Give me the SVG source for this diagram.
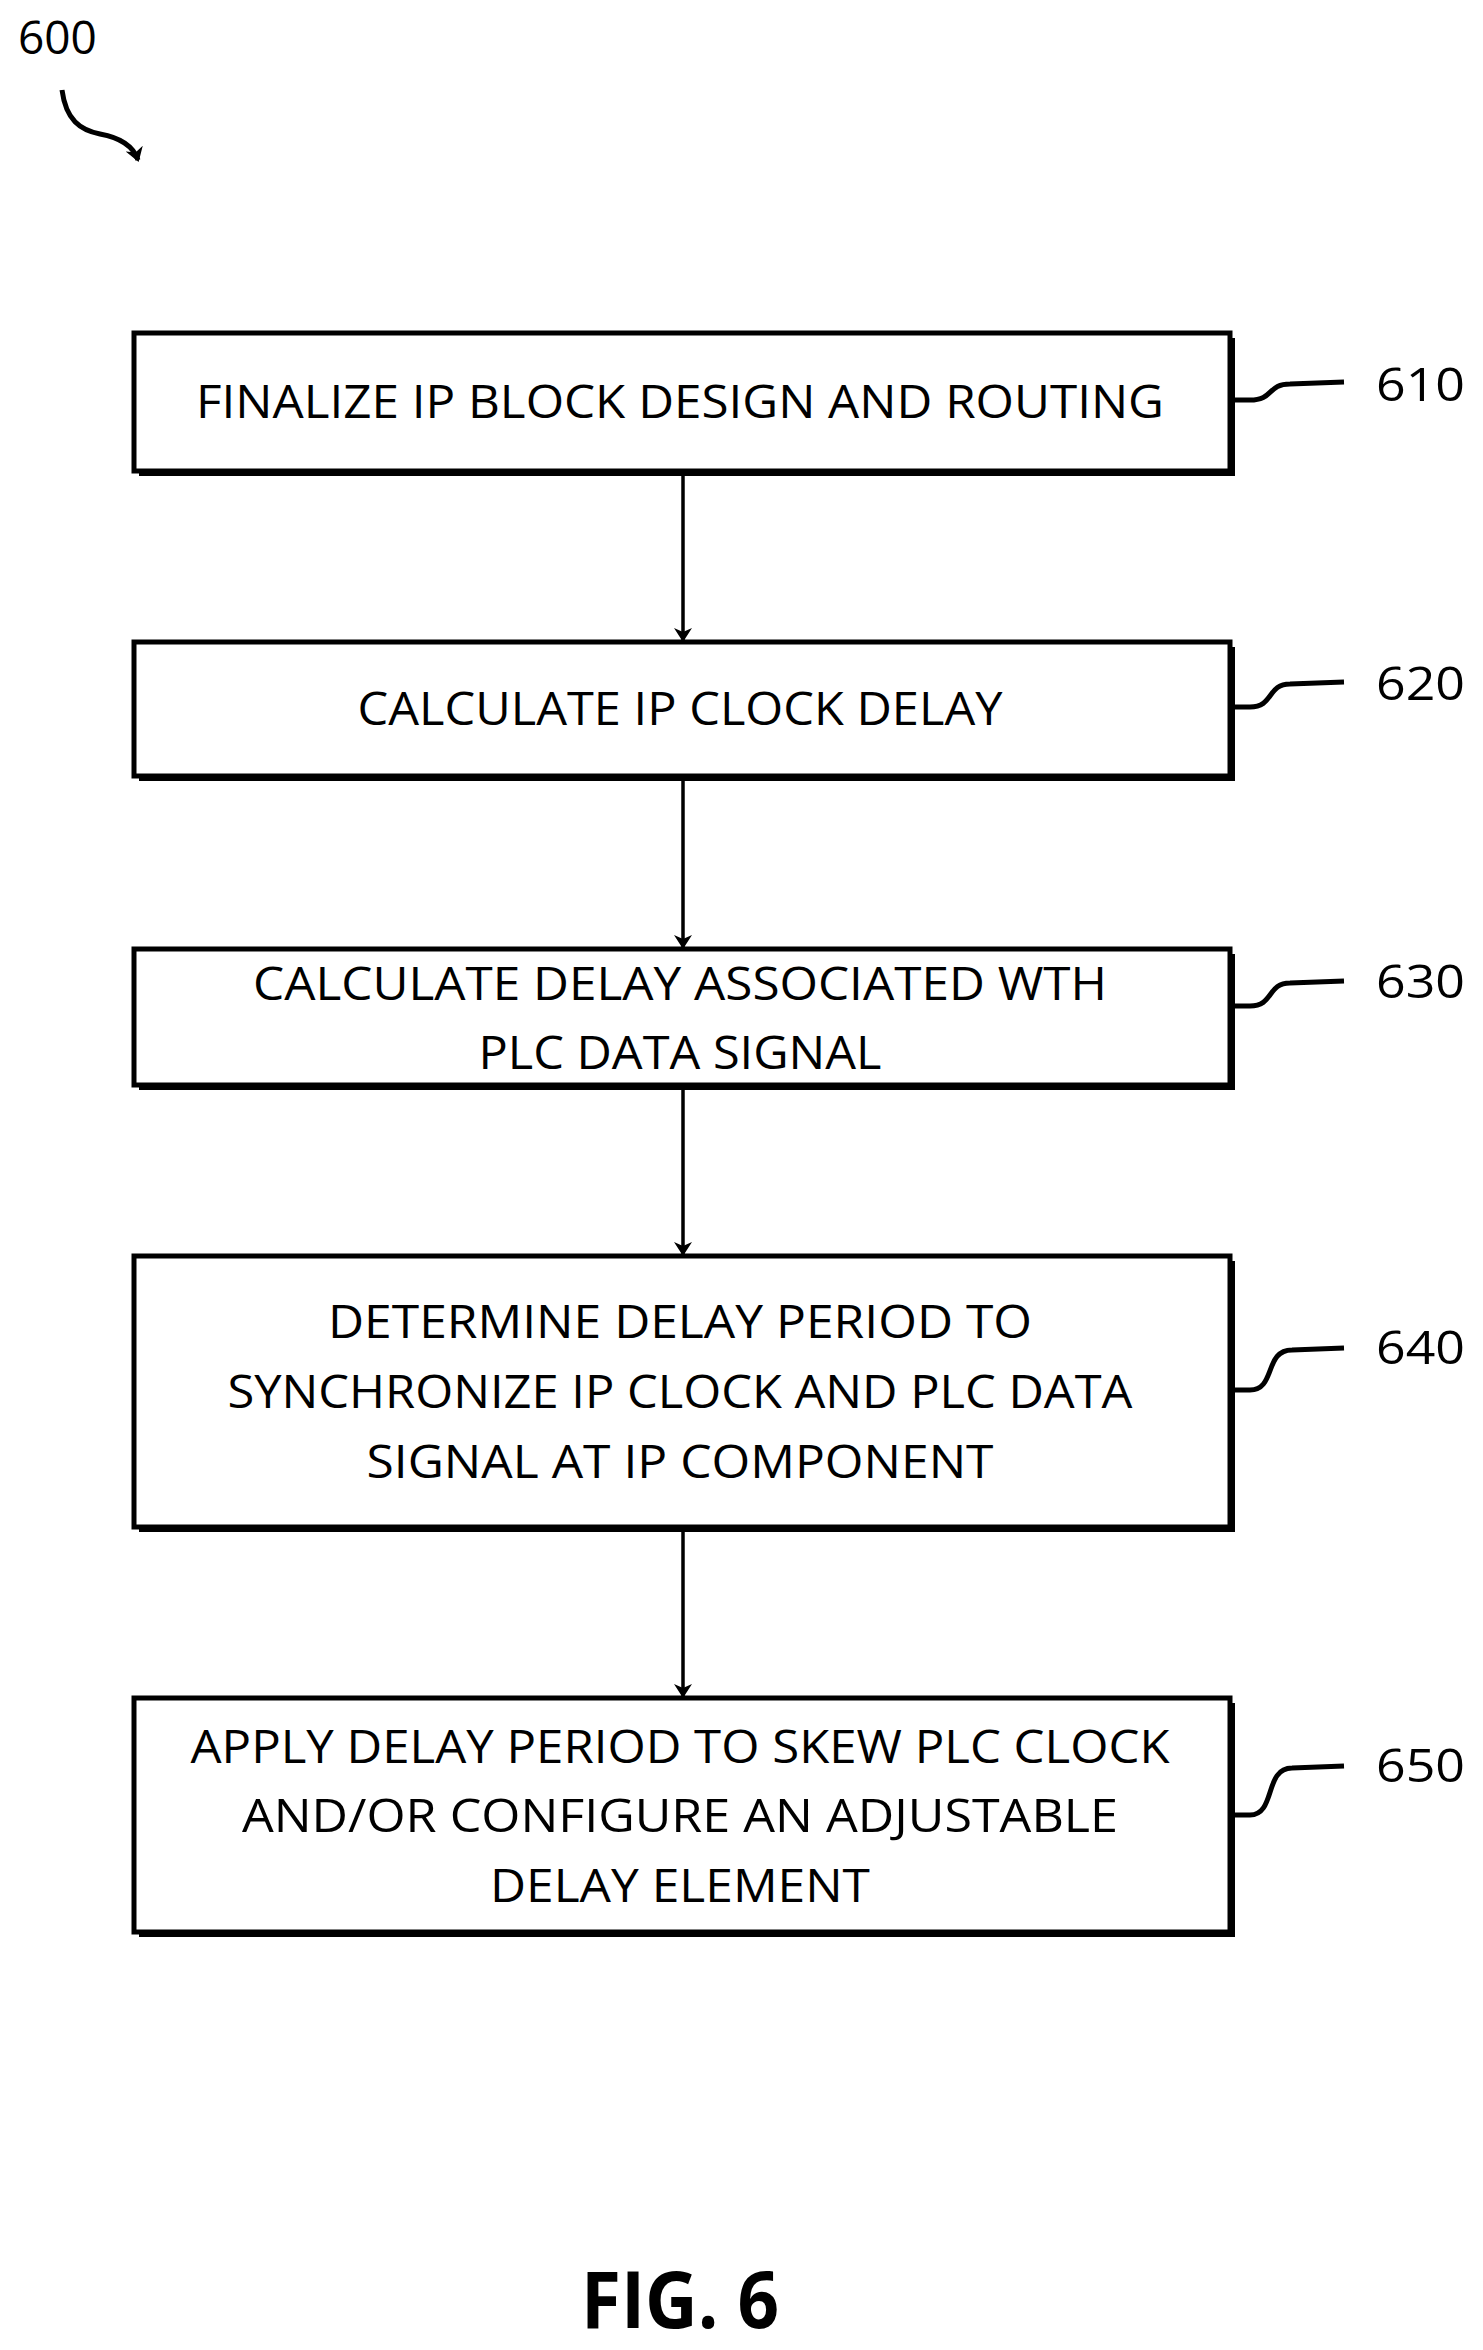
<svg xmlns="http://www.w3.org/2000/svg" width="1483" height="2350" viewBox="0 0 1483 2350">
<style>
.box{fill:#fff;stroke:#000;stroke-width:5}
.sh{fill:#000}
.t{font-family:"Open Sans","Liberation Sans",sans-serif;font-size:46px;text-anchor:middle;fill:#000}
.n{font-family:"Open Sans","Liberation Sans",sans-serif;font-size:46px;fill:#000}
.ln{fill:none;stroke:#000;stroke-width:3.5}
.ld{fill:none;stroke:#000;stroke-width:5}
</style>
<defs><marker id="ah" markerWidth="14" markerHeight="18" refX="12" refY="9" orient="auto" markerUnits="userSpaceOnUse"><path d="M0,0 L14,9 L0,18 L4,9 Z" fill="#000"/></marker></defs>
<text class="n" x="18" y="54">600</text>
<path class="ld" d="M62,90 C66,120 80,130 100,134 C122,138 134,148 138,160" marker-end="url(#ah)"/>
<g id="connectors">
<line class="ln" x1="683" y1="474" x2="683" y2="640" marker-end="url(#ah)"/>
<line class="ln" x1="683" y1="779" x2="683" y2="947" marker-end="url(#ah)"/>
<line class="ln" x1="683" y1="1088" x2="683" y2="1254" marker-end="url(#ah)"/>
<line class="ln" x1="683" y1="1530" x2="683" y2="1696" marker-end="url(#ah)"/>
</g>
<g id="n610">
<rect class="sh" x="139" y="338" width="1096" height="138"/>
<rect class="box" x="134" y="333" width="1096" height="138"/>
<text class="t" x="680" y="418" textLength="968" lengthAdjust="spacingAndGlyphs">FINALIZE IP BLOCK DESIGN AND ROUTING</text>
<path class="ld" d="M1235,400 L1250,400 C1274,400 1267,384 1290,384 L1344,382"/>
<text class="n" x="1376" y="401" textLength="89" lengthAdjust="spacingAndGlyphs">610</text>
</g>
<g id="n620">
<rect class="sh" x="139" y="647" width="1096" height="134"/>
<rect class="box" x="134" y="642" width="1096" height="134"/>
<text class="t" x="680" y="725" textLength="645" lengthAdjust="spacingAndGlyphs">CALCULATE IP CLOCK DELAY</text>
<path class="ld" d="M1235,707 L1250,707 C1274,707 1267,684 1290,684 L1344,682"/>
<text class="n" x="1376" y="700" textLength="89" lengthAdjust="spacingAndGlyphs">620</text>
</g>
<g id="n630">
<rect class="sh" x="139" y="954" width="1096" height="136"/>
<rect class="box" x="134" y="949" width="1096" height="136"/>
<text class="t" x="680" y="1000" textLength="854" lengthAdjust="spacingAndGlyphs">CALCULATE DELAY ASSOCIATED WTH</text>
<text class="t" x="680" y="1069" textLength="403" lengthAdjust="spacingAndGlyphs">PLC DATA SIGNAL</text>
<path class="ld" d="M1235,1006 L1250,1006 C1274,1006 1267,983 1290,983 L1344,981"/>
<text class="n" x="1376" y="998" textLength="89" lengthAdjust="spacingAndGlyphs">630</text>
</g>
<g id="n640">
<rect class="sh" x="139" y="1261" width="1096" height="271"/>
<rect class="box" x="134" y="1256" width="1096" height="271"/>
<text class="t" x="680" y="1338" textLength="704" lengthAdjust="spacingAndGlyphs">DETERMINE DELAY PERIOD TO</text>
<text class="t" x="680" y="1408" textLength="905" lengthAdjust="spacingAndGlyphs">SYNCHRONIZE IP CLOCK AND PLC DATA</text>
<text class="t" x="680" y="1478" textLength="627" lengthAdjust="spacingAndGlyphs">SIGNAL AT IP COMPONENT</text>
<path class="ld" d="M1235,1390 L1250,1390 C1276,1390 1264,1350 1292,1350 L1344,1348"/>
<text class="n" x="1376" y="1364" textLength="89" lengthAdjust="spacingAndGlyphs">640</text>
</g>
<g id="n650">
<rect class="sh" x="139" y="1703" width="1096" height="234"/>
<rect class="box" x="134" y="1698" width="1096" height="234"/>
<text class="t" x="680" y="1763" textLength="979" lengthAdjust="spacingAndGlyphs">APPLY DELAY PERIOD TO SKEW PLC CLOCK</text>
<text class="t" x="680" y="1832" textLength="876" lengthAdjust="spacingAndGlyphs">AND/OR CONFIGURE AN ADJUSTABLE</text>
<text class="t" x="680" y="1902" textLength="380" lengthAdjust="spacingAndGlyphs">DELAY ELEMENT</text>
<path class="ld" d="M1235,1815 L1250,1815 C1276,1815 1264,1768 1292,1768 L1344,1766"/>
<text class="n" x="1376" y="1782" textLength="89" lengthAdjust="spacingAndGlyphs">650</text>
</g>
<text x="680" y="2328" font-family="Open Sans,Liberation Sans,sans-serif" font-weight="bold" font-size="78" text-anchor="middle" textLength="198" lengthAdjust="spacingAndGlyphs">FIG. 6</text>
</svg>
